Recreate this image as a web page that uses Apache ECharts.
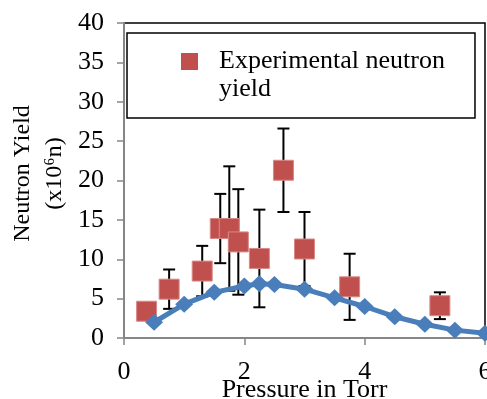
<!DOCTYPE html>
<html>
<head>
<meta charset="utf-8">
<script src="https://cdn.jsdelivr.net/npm/echarts@6/dist/echarts.min.js"></script>
<style>
  html, body { margin: 0; padding: 0; background: #fff; }
  #chart { width: 487px; height: 399px; }
</style>
</head>
<body>
<div id="chart"></div>
<script>
// 实验数据 (红色方块 + 误差棒)
const expPressure = [0.375, 0.75, 1.3, 1.6, 1.75, 1.9, 2.25, 2.65, 3.0, 3.75, 5.25]
const expYield = [3.4, 6.2, 8.5, 13.9, 13.9, 12.2, 10.1, 21.3, 11.3, 6.5, 4.1]
const expError = [1.0, 2.5, 3.2, 4.4, 7.9, 6.7, 6.2, 5.3, 4.7, 4.2, 1.7]

// 计算曲线 (蓝色菱形)
const simPressure = [0.5, 1.0, 1.5, 2.0, 2.25, 2.5, 3.0, 3.5, 4.0, 4.5, 5.0, 5.5, 6.0]
const simYield = [2.0, 4.3, 5.8, 6.6, 6.9, 6.8, 6.2, 5.1, 4.0, 2.7, 1.75, 1.0, 0.6]

const expName = 'Experimental neutron yield'
const font = 'Liberation Serif, Times New Roman, serif'

const expData = expPressure.map((p, i) => [p, expYield[i], expError[i]])
const simData = simPressure.map((p, i) => [p, simYield[i]])

/**
 * 误差棒: 竖线 + 上下两个短横
 */
function renderErrorBar (params, api) {
  const x = api.value(0)
  const y = api.value(1)
  const e = api.value(2)
  const top = api.coord([x, y + e])
  const bot = api.coord([x, y - e])
  const half = 6
  const style = { stroke: '#000', lineWidth: 2 }
  return {
    type: 'group',
    children: [
      { type: 'line', shape: { x1: top[0], y1: top[1], x2: bot[0], y2: bot[1] }, style },
      { type: 'line', shape: { x1: top[0] - half, y1: top[1], x2: top[0] + half, y2: top[1] }, style },
      { type: 'line', shape: { x1: bot[0] - half, y1: bot[1], x2: bot[0] + half, y2: bot[1] }, style }
    ]
  }
}

const chart = echarts.init(document.getElementById('chart'))

chart.setOption({
  animation: false,
  grid: {
    left: 124,
    right: 2,
    top: 23,
    bottom: 61,
    outerBoundsMode: 'none',
    containLabel: false,
    show: true,
    borderColor: '#000',
    borderWidth: 1.5
  },
  legend: {
    data: [{
      name: expName,
      // 方块放在图标上部, 与第一行文字对齐
      icon: 'path://M0,0H10V10H0Z M0,25.88H0.001V25.881H0Z'
    }],
    formatter: () => 'Experimental neutron\nyield',
    left: 127,
    top: 33,
    orient: 'vertical',
    padding: [14, 30, 15, 54],
    itemWidth: 17,
    itemHeight: 44,
    borderColor: '#000',
    borderWidth: 1.5,
    backgroundColor: '#fff',
    itemStyle: { borderWidth: 0 },
    textStyle: {
      fontFamily: font,
      fontSize: 26,
      lineHeight: 28,
      color: '#000',
      padding: [0, 0, 0, 16]
    }
  },
  xAxis: {
    type: 'value',
    min: 0,
    max: 6,
    interval: 2,
    name: 'Pressure in Torr',
    nameLocation: 'middle',
    nameGap: 39,
    nameMoveOverlap: false,
    nameTextStyle: { fontFamily: font, fontSize: 26, color: '#000' },
    axisLine: { onZero: false, lineStyle: { color: '#868686', width: 2 } },
    axisTick: { show: true, length: 7, lineStyle: { color: '#868686', width: 1.5 } },
    axisLabel: { fontFamily: font, fontSize: 26, color: '#000', margin: 21 },
    splitLine: { show: false }
  },
  yAxis: {
    type: 'value',
    min: 0,
    max: 40,
    interval: 5,
    name: 'Neutron Yield\n(x10⁶n)',
    nameLocation: 'middle',
    nameGap: 53,
    nameMoveOverlap: false,
    nameTextStyle: { fontFamily: font, fontSize: 24, lineHeight: 32, color: '#000', padding: [0, 0, 0, 14] },
    axisLine: { show: true, lineStyle: { color: '#868686', width: 2 } },
    axisTick: { show: true, length: 7, lineStyle: { color: '#868686', width: 1.5 } },
    axisLabel: { fontFamily: font, fontSize: 26, color: '#000', margin: 20 },
    splitLine: { show: false }
  },
  series: [
    {
      name: 'errorBars',
      type: 'custom',
      renderItem: renderErrorBar,
      data: expData,
      encode: { x: 0, y: [1, 2] },
      z: 2
    },
    {
      name: expName,
      type: 'scatter',
      symbol: 'rect',
      symbolSize: 20,
      data: expData,
      itemStyle: { color: '#C0504D', borderColor: '#D98A88', borderWidth: 1, opacity: 1 },
      z: 3
    },
    {
      name: 'Simulation',
      type: 'line',
      data: simData,
      symbol: 'diamond',
      symbolSize: [18, 17],
      clip: false,
      lineStyle: { color: '#4A7EBB', width: 5 },
      itemStyle: { color: '#4A7EBB', borderWidth: 0 },
      z: 4
    }
  ]
})
</script>
</body>
</html>
